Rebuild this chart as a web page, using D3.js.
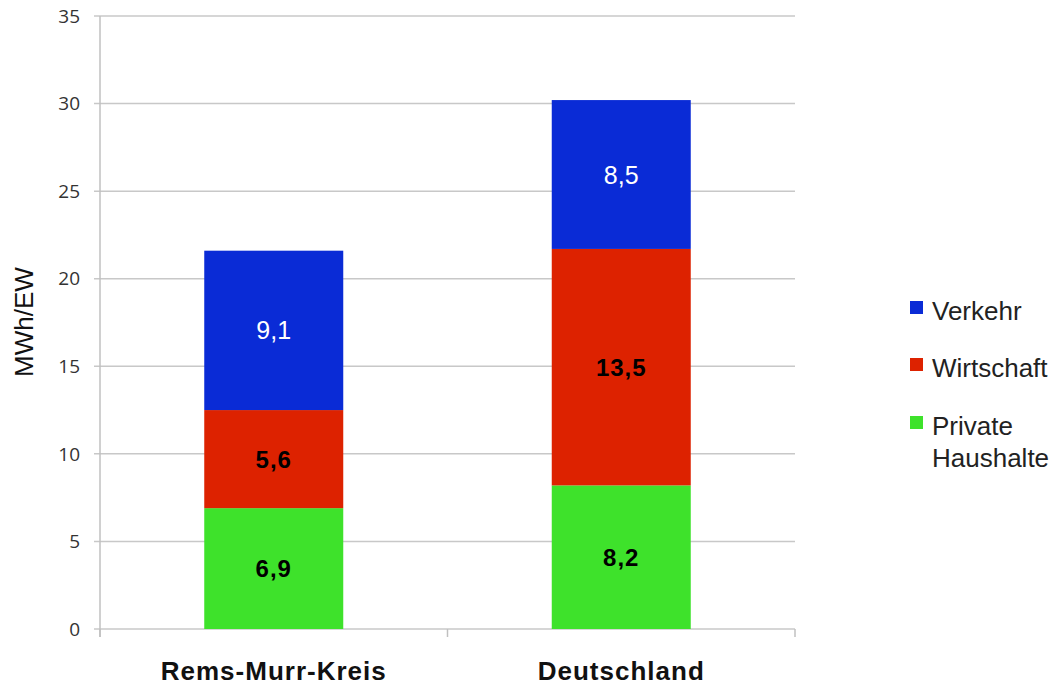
<!DOCTYPE html>
<html><head><meta charset="utf-8">
<script src="https://cdn.jsdelivr.net/npm/d3@7"></script>
<style>body{margin:0;background:#fff;}svg{display:block;font-family:"Liberation Sans",Arial,sans-serif;}</style>
</head><body>
<svg id="c" width="1062" height="686"></svg>
<script>
const categories = ["Rems-Murr-Kreis", "Deutschland"];
const seriesNames = ["Private Haushalte", "Wirtschaft", "Verkehr"];
const privateHaushalte = [6.9, 8.2];
const wirtschaft = [5.6, 13.5];
const verkehr = [9.1, 8.5];
const yTicks = [0, 5, 10, 15, 20, 25, 30, 35];
const colors = ["#3ee22b", "#dd2200", "#0a2bd6"];
const labelColors = ["#000", "#000", "#fff"];
const labelWeights = ["bold", "bold", "normal"];

(function () {
const svg = d3.select("#c");
const pLeft = 100, pRight = 795, pTop = 16, pBottom = 629;

const x = d3.scaleBand().domain(categories).range([pLeft, pRight]).paddingInner(0.6).paddingOuter(0.3);
const y = d3.scaleLinear().domain([0, 35]).range([pBottom, pTop]);

svg.append("g").selectAll("line").data(yTicks).join("line")
  .attr("x1", pLeft - 6).attr("x2", pRight).attr("y1", d => y(d)).attr("y2", d => y(d))
  .attr("stroke", "#c8c8c8").attr("stroke-width", 1.5);

svg.append("line").attr("x1", pLeft).attr("x2", pLeft).attr("y1", pTop).attr("y2", pBottom + 8)
  .attr("stroke", "#c0c0c0").attr("stroke-width", 1.5);
const xb = d3.scaleBand().domain(categories).range([pLeft, pRight]);
const xTickPos = [pLeft, ...categories.map(c => xb(c) + xb.bandwidth())];
svg.append("g").selectAll("line").data(xTickPos).join("line")
  .attr("x1", d => d).attr("x2", d => d).attr("y1", pBottom).attr("y2", pBottom + 8)
  .attr("stroke", "#c0c0c0").attr("stroke-width", 1.5);

svg.append("g").selectAll("text").data(yTicks).join("text")
  .attr("x", pLeft - 20).attr("y", d => y(d)).attr("dy", "0.35em")
  .attr("text-anchor", "end").attr("font-size", 19).attr("fill", "#333")
  .attr("font-family", "'Open Sans', 'DejaVu Sans', sans-serif")
  .text(d => d);

svg.append("text").attr("transform", `translate(33,322) rotate(-90)`)
  .attr("text-anchor", "middle").attr("font-size", 26).attr("fill", "#111")
  .text("MWh/EW");

const rows = categories.map((c, i) => ({cat: c, "Private Haushalte": privateHaushalte[i], "Wirtschaft": wirtschaft[i], "Verkehr": verkehr[i]}));
const stack = d3.stack().keys(seriesNames)(rows);

stack.forEach((layer, li) => {
  const g = svg.append("g");
  g.selectAll("rect").data(layer).join("rect")
    .attr("x", d => x(d.data.cat)).attr("width", x.bandwidth())
    .attr("y", d => y(d[1])).attr("height", d => y(d[0]) - y(d[1]))
    .attr("fill", colors[li]);
  g.selectAll("text").data(layer).join("text")
    .attr("x", d => x(d.data.cat) + x.bandwidth() / 2)
    .attr("y", d => y((d[0] + d[1]) / 2)).attr("dy", "0.36em")
    .attr("text-anchor", "middle").attr("font-size", li === 2 ? 25 : 24)
    .attr("letter-spacing", li === 2 ? 0 : 1)
    .attr("font-weight", labelWeights[li]).attr("fill", labelColors[li])
    .text(d => d3.format(".1f")(d[1] - d[0]).replace(".", ","));
});

svg.append("g").selectAll("text").data(categories).join("text")
  .attr("x", d => x(d) + x.bandwidth() / 2).attr("y", 680)
  .attr("text-anchor", "middle").attr("font-size", 26).attr("letter-spacing", 1)
  .attr("font-weight", "bold").attr("fill", "#111")
  .text(d => d);

const legendItems = [
  {color: colors[2], lines: ["Verkehr"], y: 320},
  {color: colors[1], lines: ["Wirtschaft"], y: 377},
  {color: colors[0], lines: ["Private", "Haushalte"], y: 435}
];
const lg = svg.append("g");
legendItems.forEach(it => {
  lg.append("rect").attr("x", 910).attr("y", it.y - 19).attr("width", 13).attr("height", 13).attr("fill", it.color);
  const t = lg.append("text").attr("x", 932).attr("y", it.y)
    .attr("font-size", 26).attr("fill", "#222");
  it.lines.forEach((l, k) => t.append("tspan").attr("x", 932).attr("dy", k === 0 ? 0 : 32).text(l));
});
})();
</script>
</body></html>
